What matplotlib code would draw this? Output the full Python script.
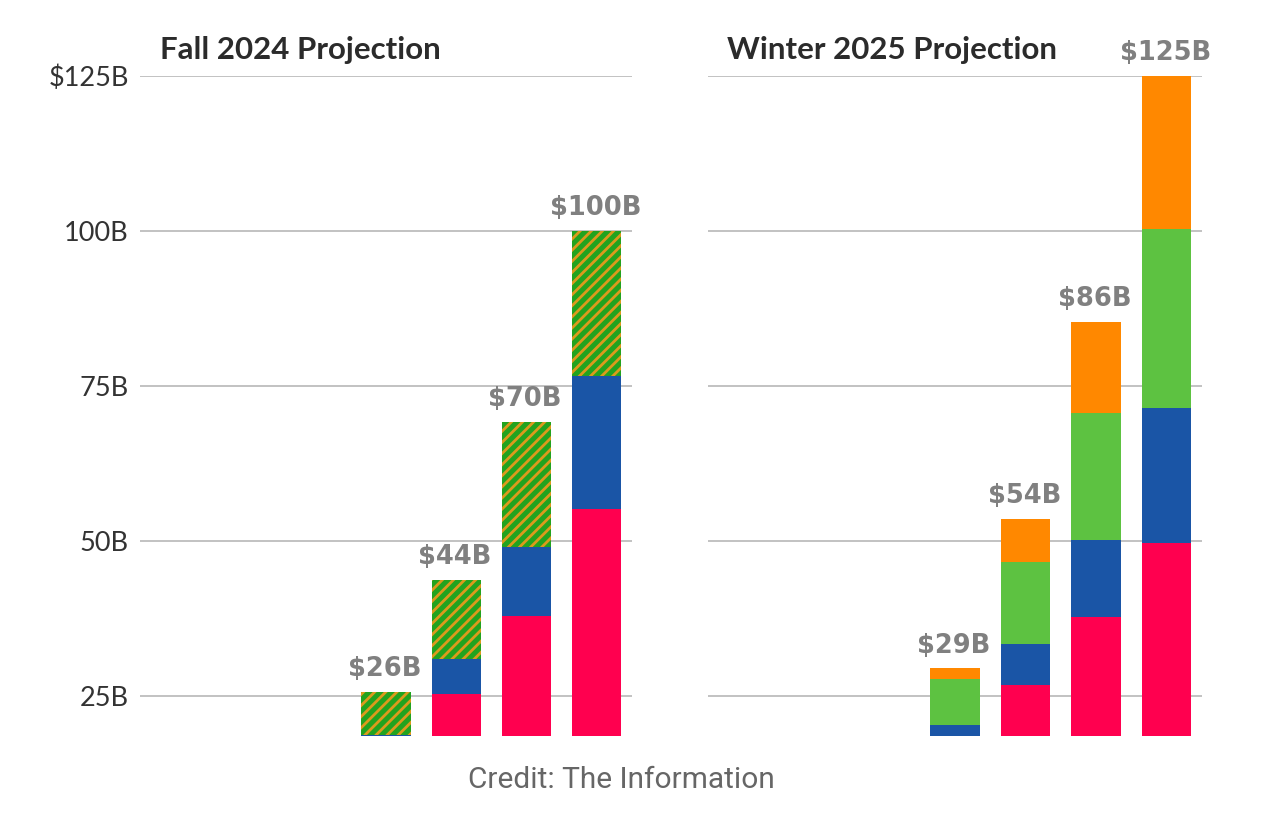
#!/usr/bin/env python

"""
Stacked bar projections, Fall 2024 vs Winter 2025.
"""

import matplotlib
matplotlib.use("Agg")
import matplotlib.pyplot as plt

# slots 0..6, only the last four carry bars
positions = [3, 4, 5, 6]

# Fall 2024 segments ($B)
fall_red = [17.0, 25.2, 37.9, 55.2]
fall_blue = [1.7, 5.8, 11.1, 21.4]
fall_hatched = [6.9, 12.7, 20.2, 23.4]
fall_labels = ["$26B", "$44B", "$70B", "$100B"]

# Winter 2025 segments ($B)
winter_red = [17.0, 26.8, 37.7, 49.7]
winter_blue = [3.3, 6.6, 12.5, 21.8]
winter_green = [7.4, 13.2, 20.4, 28.8]
winter_orange = [1.7, 6.9, 14.7, 24.7]
winter_labels = ["$29B", "$54B", "$86B", "$125B"]

yticks = [25, 50, 75, 100, 125]
ytick_labels = ["25B", "50B", "75B", "100B", "$125B"]

RED = "#ff004f"
BLUE = "#1a55a6"
GREEN = "#5dc241"
ORANGE = "#ff8800"
HATCH_GREEN = "#22a31f"
HATCH_ORANGE = "#dc9a1c"

plt.rcParams["hatch.linewidth"] = 2.0

fig = plt.figure(figsize=(12.82, 8.22), dpi=100)
ax1 = fig.add_axes([140 / 1282, 86 / 822, 492 / 1282, 660 / 822])
ax2 = fig.add_axes([708 / 1282, 86 / 822, 494 / 1282, 660 / 822])

width = 0.7


def stack(ax, segments):
    bottom = [0.0] * len(positions)
    for vals, kw in segments:
        ax.bar(positions, vals, width, bottom=bottom, zorder=2, **kw)
        bottom = [b + v for b, v in zip(bottom, vals)]
    return bottom


tops1 = stack(ax1, [
    (fall_red, dict(color=RED, linewidth=0)),
    (fall_blue, dict(color=BLUE, linewidth=0)),
    (fall_hatched, dict(facecolor=HATCH_GREEN, edgecolor=HATCH_ORANGE,
                        hatch="///", linewidth=0)),
])
tops2 = stack(ax2, [
    (winter_red, dict(color=RED, linewidth=0)),
    (winter_blue, dict(color=BLUE, linewidth=0)),
    (winter_green, dict(color=GREEN, linewidth=0)),
    (winter_orange, dict(color=ORANGE, linewidth=0)),
])

for ax, tops, labels in [(ax1, tops1, fall_labels), (ax2, tops2, winter_labels)]:
    ax.set_xlim(-0.5, 6.5)
    ax.set_ylim(18.5, 125)
    ax.set_xticks([])
    for s in ax.spines.values():
        s.set_visible(False)
    for y in yticks:
        ax.axhline(y, color="#b8b8b8", linewidth=1.2, zorder=1)
    for x, t, lab in zip(positions, tops, labels):
        ax.annotate(lab, (x, t), xytext=(-1, 7), textcoords="offset points",
                    ha="center", va="bottom", fontsize=18.5, fontweight="heavy",
                    color="#808080", family="DejaVu Sans", annotation_clip=False)

ax1.set_yticks(yticks)
ax1.set_yticklabels(ytick_labels, family="Lato", fontsize=19.5, color="#333333")
ax1.tick_params(axis="y", length=0, pad=8)
ax2.set_yticks([])

fig.text(160 / 1282, 1 - 50 / 822, "Fall 2024 Projection", ha="left", va="center",
         family="Lato", fontweight="bold", fontsize=22.5, color="#2b2b2b")
fig.text(727 / 1282, 1 - 50 / 822, "Winter 2025 Projection", ha="left", va="center",
         family="Lato", fontweight="bold", fontsize=22.5, color="#2b2b2b")
fig.text(621 / 1282, 1 - 780 / 822, "Credit: The Information", ha="center", va="center",
         family="Roboto", fontsize=21.5, color="#666666")

fig.savefig("out.png", dpi=100)
